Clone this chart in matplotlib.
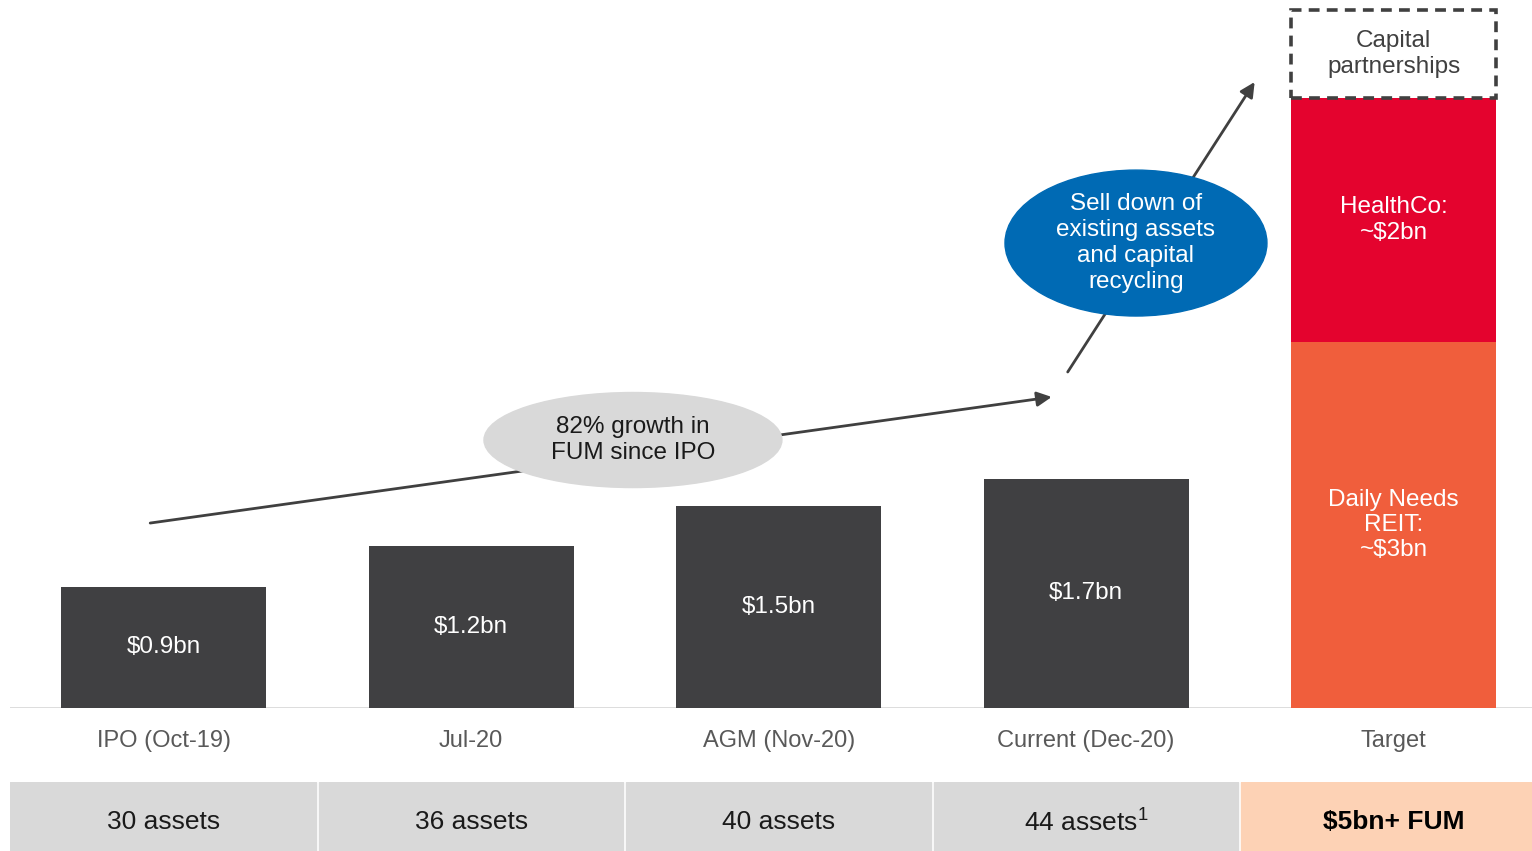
import matplotlib.pyplot as plt
from matplotlib.patches import Ellipse, Rectangle

plt.rcParams['font.family'] = ['Liberation Sans', 'DejaVu Sans']
plt.rcParams['mathtext.fontset'] = 'custom'
plt.rcParams['mathtext.rm'] = 'Liberation Sans'

# data
periods = ['IPO (Oct-19)', 'Jul-20', 'AGM (Nov-20)', 'Current (Dec-20)', 'Target']
fum = [0.9, 1.2, 1.5, 1.7]
fum_labels = ['$0.9bn', '$1.2bn', '$1.5bn', '$1.7bn']
target_parts = [2.71, 1.81, 0.65]   # drawn heights
target_labels = ['Daily Needs\nREIT:\n~$3bn', 'HealthCo:\n~$2bn', 'Capital\npartnerships']
assets = ['30 assets', '36 assets', '40 assets', r'44 assets$^{\mathrm{1}}$', r'\$5bn+ FUM']

dark = '#404042'
red = '#E4032E'
orange = '#F05E3C'
blue = '#006AB4'
lgray = '#D9D9D9'
peach = '#FDD2B5'

W, H = 1532, 851
fig = plt.figure(figsize=(W / 100, H / 100), dpi=100)

# main chart axes, baseline at y=708px
ax = fig.add_axes([10 / W, (H - 708) / H, (W - 10) / W, 708 / H])
ax.set_xlim(-0.5, 4.45)
ax.set_ylim(0, 708 / 135)
ax.axis('off')
ax.axhline(0, color=lgray, lw=2, zorder=1)

bw = 0.667
fs = 17.5
x = list(range(len(fum)))
ax.bar(x, fum, width=bw, color=dark, zorder=2)
for xi, v, lab in zip(x, fum, fum_labels):
    ax.text(xi, v / 2, lab, ha='center', va='center', color='white', fontsize=fs)

# target stack
tx = 4
ax.bar(tx, target_parts[0], width=bw, color=orange, zorder=2)
ax.bar(tx, target_parts[1], bottom=target_parts[0], width=bw, color=red, zorder=2)
ax.bar(tx, target_parts[2], bottom=target_parts[0] + target_parts[1], width=bw,
       facecolor='none', edgecolor='#404040', lw=2.6, linestyle=(0, (3, 2)), zorder=3)
bottoms = [0, target_parts[0], target_parts[0] + target_parts[1]]
colors_t = ['white', 'white', '#404040']
for b, h, lab, c in zip(bottoms, target_parts, target_labels, colors_t):
    ax.text(tx, b + h / 2, lab, ha='center', va='center', color=c, fontsize=fs,
            linespacing=1.2)

# category labels
for xi, lab in enumerate(periods):
    ax.text(xi, -0.245, lab, ha='center', va='center', color='#595959', fontsize=17,
            clip_on=False)

# growth arrows
ax.annotate('', xy=(2.888, 2.304), xytext=(-0.044, 1.37),
            arrowprops=dict(arrowstyle='-|>', color='#404040', lw=2,
                            mutation_scale=22, shrinkA=0, shrinkB=0), zorder=4)
ax.annotate('', xy=(3.548, 4.637), xytext=(2.940, 2.489),
            arrowprops=dict(arrowstyle='-|>', color='#404040', lw=2,
                            mutation_scale=22, shrinkA=0, shrinkB=0), zorder=4)

ax.add_patch(Ellipse((1.526, 1.985), 0.969, 0.704, color=lgray, zorder=5))
ax.text(1.526, 1.985, '82% growth in\nFUM since IPO', ha='center', va='center',
        fontsize=fs, color='#1a1a1a', zorder=6, linespacing=1.2)
ax.add_patch(Ellipse((3.162, 3.444), 0.852, 1.081, color=blue, zorder=5))
ax.text(3.162, 3.444, 'Sell down of\nexisting assets\nand capital\nrecycling',
        ha='center', va='center', fontsize=fs, color='white', zorder=6,
        linespacing=1.22)

# bottom row of boxes
bx = fig.add_axes([10 / W, 0, (W - 10) / W, 69 / H])
bx.set_xlim(-0.5, 4.45)
bx.set_ylim(0, 1)
bx.axis('off')
gap = 0.005
for i, lab in enumerate(assets):
    left = i - 0.5 + (gap if i > 0 else 0)
    right = i + 0.5 - gap if i < 4 else 4.45
    fc = peach if i == 4 else lgray
    bx.add_patch(Rectangle((left, 0), right - left, 1, color=fc))
    bx.text(i, 0.42, lab, ha='center', va='center',
            fontsize=19, color='#1a1a1a' if i < 4 else 'black',
            fontweight='bold' if i == 4 else 'normal')

fig.savefig('out.png', dpi=100)
